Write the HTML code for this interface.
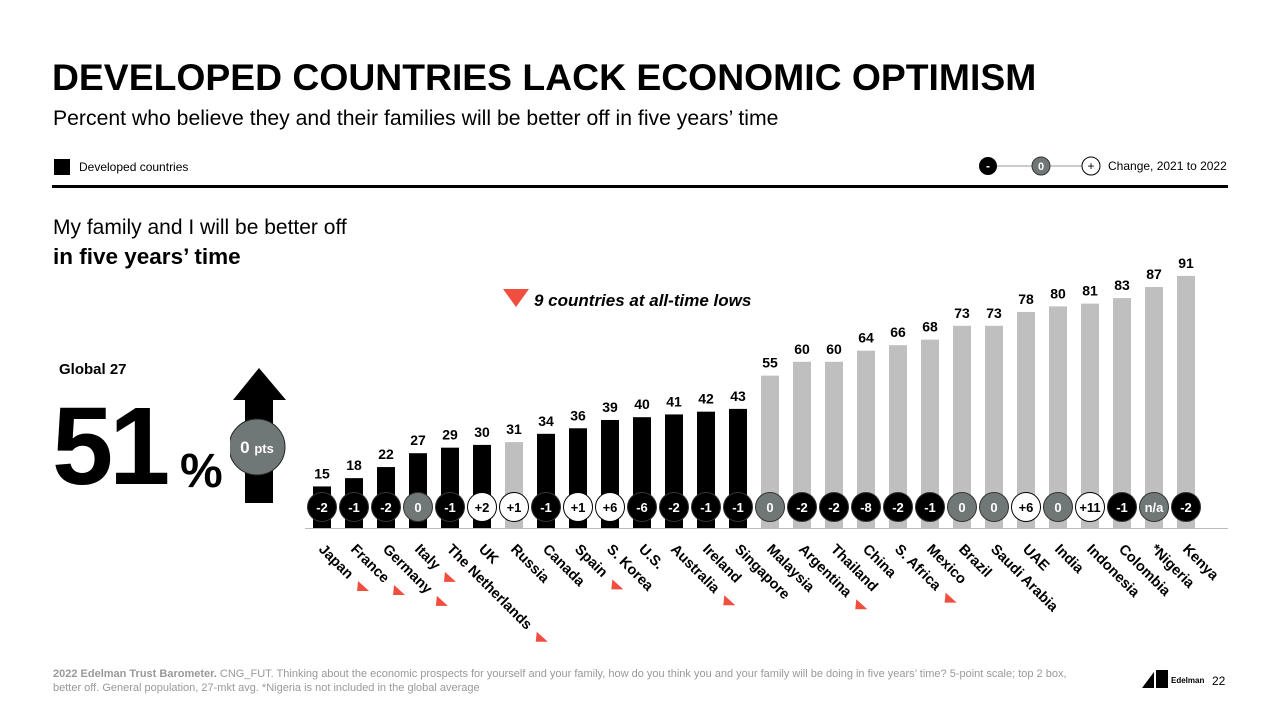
<!DOCTYPE html>
<html><head><meta charset="utf-8">
<style>
body{margin:0;width:1280px;height:720px;background:#fff;font-family:"Liberation Sans",Arial,sans-serif;position:relative;overflow:hidden;color:#000}
.abs{position:absolute}
</style></head><body>
<div class="abs" style="left:52px;top:56px;font-size:37.3px;font-weight:bold;letter-spacing:0px">DEVELOPED COUNTRIES LACK ECONOMIC OPTIMISM</div>
<div class="abs" style="left:53px;top:107px;font-size:21.2px">Percent who believe they and their families will be better off in five years’ time</div>
<div class="abs" style="left:54px;top:159px;width:16px;height:16px;background:#000"></div>
<div class="abs" style="left:79px;top:160px;font-size:12px">Developed countries</div>
<svg class="abs" style="left:970px;top:150px" width="140" height="34">
<line x1="18" y1="16" x2="120" y2="16" stroke="#999" stroke-width="1"/>
<circle cx="18" cy="16" r="9" fill="#000"/><text x="18" y="20" fill="#fff" font-size="12" font-weight="bold" text-anchor="middle">-</text>
<circle cx="71" cy="16" r="9" fill="#6f7777" stroke="#333"/><text x="71" y="20" fill="#fff" font-size="11" font-weight="bold" text-anchor="middle">0</text>
<circle cx="121" cy="16" r="9" fill="#fff" stroke="#000"/><text x="121" y="20" fill="#000" font-size="12" text-anchor="middle">+</text>
</svg>
<div class="abs" style="left:1108px;top:159px;font-size:12px">Change, 2021 to 2022</div>
<div class="abs" style="left:52px;top:185px;width:1176px;height:3px;background:#000"></div>
<div class="abs" style="left:53px;top:213px;font-size:21px;line-height:29px">My family and I will be better off<br><b style="font-size:22.5px">in five years’ time</b></div>
<svg class="abs" style="left:503px;top:289px" width="26" height="20"><polygon points="0,0 26,0 13,18" fill="#f04e3e"/></svg>
<div class="abs" style="left:534px;top:291px;font-size:17px;font-weight:bold;font-style:italic">9 countries at all-time lows</div>
<div class="abs" style="left:59px;top:361px;font-size:15px;font-weight:bold">Global 27</div>
<div class="abs" style="left:52px;top:390px;font-size:110px;font-weight:bold;letter-spacing:-4px;line-height:114px">51</div>
<div class="abs" style="left:180px;top:446px;font-size:48px;font-weight:bold;line-height:52px">%</div>
<svg class="abs" style="left:230px;top:365px" width="60" height="142">
<polygon points="29,3 56,35 43,35 43,138 15,138 15,35 3,35" fill="#000"/>
<circle cx="27" cy="82" r="28" fill="#6f7777" stroke="#222" stroke-width="1"/>
<text x="27" y="88" fill="#fff" font-size="17" font-weight="bold" text-anchor="middle">0 <tspan font-size="13">pts</tspan></text>
</svg>
<svg id="chart" class="abs" style="left:0;top:0" width="1280" height="720"></svg>
<div class="abs" style="left:53px;top:667px;font-size:11px;color:#999;line-height:14px;width:1040px"><b>2022 Edelman Trust Barometer.</b> CNG_FUT. Thinking about the economic prospects for yourself and your family, how do you think you and your family will be doing in five years’ time? 5-point scale; top 2 box, better off. General population, 27-mkt avg. *Nigeria is not included in the global average</div>
<svg class="abs" style="left:1140px;top:668px" width="30" height="24"><path d="M2,20 L14,4 L14,20 Z M16,2 L28,2 L28,20 L16,20 Z" fill="#000"/></svg>
<div class="abs" style="left:1171px;top:676px;font-size:8px;font-weight:bold">Edelman</div>
<div class="abs" style="left:1212px;top:674px;font-size:12px">22</div>
<script>
const categories=["Japan","France","Germany","Italy","The Netherlands","UK","Russia","Canada","Spain","S. Korea","U.S.","Australia","Ireland","Singapore","Malaysia","Argentina","Thailand","China","S. Africa","Mexico","Brazil","Saudi Arabia","UAE","India","Indonesia","Colombia","*Nigeria","Kenya"];
const values=[15,18,22,27,29,30,31,34,36,39,40,41,42,43,55,60,60,64,66,68,73,73,78,80,81,83,87,91];
const changes=["-2","-1","-2","0","-1","+2","+1","-1","+1","+6","-6","-2","-1","-1","0","-2","-2","-8","-2","-1","0","0","+6","0","+11","-1","n/a","-2"];
const developed=[1,1,1,1,1,1,0,1,1,1,1,1,1,1,0,0,0,0,0,0,0,0,0,0,0,0,0,0];
const allTimeLow=[1,1,1,1,1,0,0,0,1,0,0,1,0,0,0,1,0,0,1,0,0,0,0,0,0,0,0,0];
const svg=document.getElementById('chart');
const NS='http://www.w3.org/2000/svg';
const base=528, pxPerUnit=2.77, x0=322, step=32, bw=18;
const xs=i=>x0+i*step;
const ys=v=>base-v*pxPerUnit;
function mk(t,a){const e=document.createElementNS(NS,t);for(const k in a)e.setAttribute(k,a[k]);svg.appendChild(e);return e;}
const bl=mk('line',{x1:305,x2:1228,y1:base+0.5,y2:base+0.5,stroke:'#bbb','stroke-width':1});


categories.forEach((c,i)=>{
  const x=xs(i),v=values[i];
  const r=mk('rect',{x:x-bw/2,y:ys(v),width:bw,height:base-ys(v),fill:developed[i]?'#000':'#bfbfbf'});
  
  
  const t=mk('text',{x:x,y:ys(v)-8,'text-anchor':'middle','font-size':14,'font-weight':'bold'});
  t.textContent=v;
  
  
  const ch=changes[i];
  const neg=ch.startsWith('-'),pos=ch.startsWith('+');
  const fill=neg?'#000':(pos?'#fff':'#6f7777');
  const cc=mk('circle',{cx:x,cy:507,r:14.5,fill:fill,stroke:pos?'#000':'#333','stroke-width':1});
  
  
  const ct=mk('text',{x:x,y:512,'text-anchor':'middle','font-size':13,'font-weight':'bold',fill:pos?'#000':'#fff'});
  ct.textContent=ch;
  
  
  const lx=x-4,ly=550;
  const lt=mk('text',{x:lx,y:ly,'font-size':14.5,'font-weight':'bold',transform:`rotate(45 ${lx} ${ly})`});
  lt.textContent=c;
  
  
  if(allTimeLow[i]){
    const L=lt.getComputedTextLength?lt.getComputedTextLength():c.length*8;
    const d=(L+2)/Math.SQRT2;
    const tx=lx+d+9,ty=ly+d;
    const tri=mk('polygon',{points:`${tx},${ty} ${tx-1},${ty+10} ${tx+11},${ty+10}`,fill:'#f04e3e'});
    
    
  }
});
</script>
</body></html>
